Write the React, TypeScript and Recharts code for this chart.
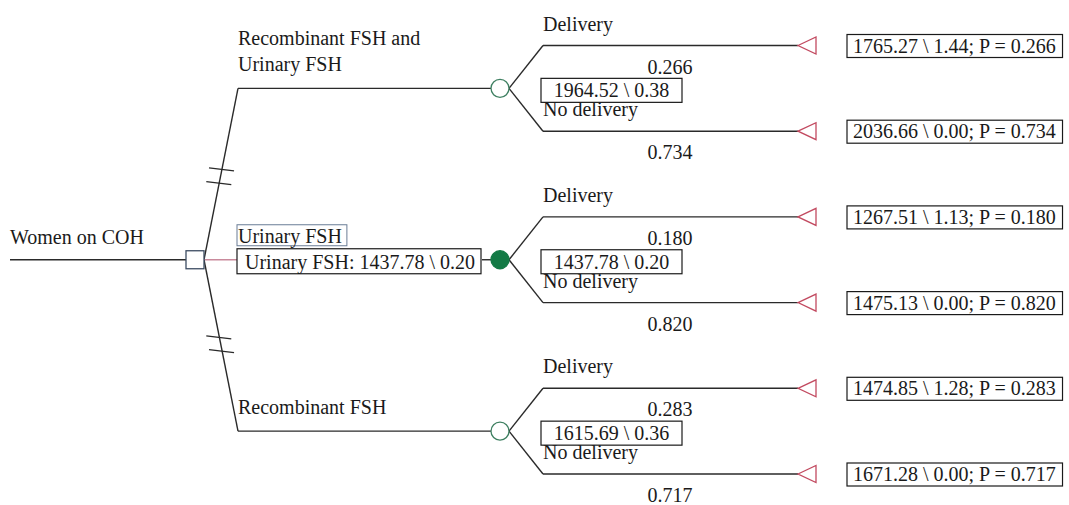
import { ComposedChart, XAxis, YAxis, Scatter, ReferenceLine } from "recharts";

// decision tree values
const rootLabel = "Women on COH";
const strategies = ["Recombinant FSH and Urinary FSH", "Urinary FSH", "Recombinant FSH"];
const strategyCost = [1964.52, 1437.78, 1615.69];
const strategyEffect = [0.38, 0.2, 0.36];
const chosenStrategy = 1;
const outcomes = ["Delivery", "No delivery"];
const outcomeProb = [
  [0.266, 0.734],
  [0.18, 0.82],
  [0.283, 0.717],
];
const payoffCost = [
  [1765.27, 2036.66],
  [1267.51, 1475.13],
  [1474.85, 1671.28],
];
const payoffEffect = [
  [1.44, 0.0],
  [1.13, 0.0],
  [1.28, 0.0],
];

// layout
const W = 1069;
const H = 505;
const COL = { start: 10, decision: 195, elbow1: 238, chance: 500, elbow2: 543, terminal: 798, payoff: 847 };
const ROW0 = 45.5;
const ROW_STEP = 85.7;
const FONT = "'Liberation Serif', 'Times New Roman', serif";
const FS = 20;
const INK = "#1a1a1a";

let ctx: CanvasRenderingContext2D | null = null;
const measure = (t: string) => {
  if (!ctx) ctx = document.createElement("canvas").getContext("2d");
  if (!ctx) return t.length * 9;
  ctx.font = `${FS}px 'Liberation Serif'`;
  return ctx.measureText(t).width;
};

const wrap = (s: string, max = 20) => {
  const lines: string[] = [];
  let cur = "";
  s.split(" ").forEach((w) => {
    const next = cur ? cur + " " + w : w;
    if (next.length > max && cur) {
      lines.push(cur);
      cur = w;
    } else cur = next;
  });
  lines.push(cur);
  return lines;
};

const fmt = (v: number, d: number) => v.toFixed(d);

const leafY = (s: number, o: number) => ROW0 + (s * outcomes.length + o) * ROW_STEP;

const chanceNodes = strategies.map((name, s) => ({
  x: COL.chance,
  y: outcomes.reduce((a, _, o) => a + leafY(s, o), 0) / outcomes.length,
  s,
  name,
  chosen: s === chosenStrategy,
}));
const decisionY = chanceNodes.reduce((a, n) => a + n.y, 0) / chanceNodes.length;
const decisionNodes = [{ x: COL.decision, y: decisionY }];

const terminalNodes = strategies.flatMap((_, s) =>
  outcomes.map((label, o) => ({ x: COL.terminal, y: leafY(s, o), s, o, label }))
);
const outcomeLabels = terminalNodes.map((t) => ({ ...t, x: COL.elbow2 }));
const payoffBoxes = terminalNodes.map((t) => ({
  ...t,
  x: COL.payoff,
  text: `${fmt(payoffCost[t.s][t.o], 2)} \\ ${fmt(payoffEffect[t.s][t.o], 2)}; P = ${fmt(outcomeProb[t.s][t.o], 3)}`,
}));
const strategyLabels = chanceNodes.map((c) => ({ ...c, x: COL.elbow1 }));
const valueBoxes = chanceNodes.map((c) => ({
  ...c,
  x: COL.elbow2,
  text: `${fmt(strategyCost[c.s], 2)} \\ ${fmt(strategyEffect[c.s], 2)}`,
}));
const rootLabels = [{ x: COL.start, y: decisionY, text: rootLabel }];

// edges
type Seg = { a: { x: number; y: number }; b: { x: number; y: number }; color: string };
const segs: Seg[] = [];
const line = "#2a2a2a";
segs.push({ a: { x: COL.start, y: decisionY }, b: { x: COL.decision - 9, y: decisionY }, color: line });
const chosenBoxText = `${strategies[chosenStrategy]}: ${fmt(strategyCost[chosenStrategy], 2)} \\ ${fmt(strategyEffect[chosenStrategy], 2)}`;
const chosenBoxW = measure(chosenBoxText) + 14;
chanceNodes.forEach((c) => {
  const from = { x: COL.decision + 9, y: decisionY };
  const elbow = { x: COL.elbow1, y: c.y };
  segs.push({ a: from, b: elbow, color: c.chosen ? "#c98a9c" : line });
  segs.push({ a: { x: c.chosen ? COL.elbow1 + chosenBoxW : COL.elbow1, y: c.y }, b: { x: COL.chance - 9, y: c.y }, color: line });
  if (!c.chosen) {
    [0.45, 0.53].forEach((t) => {
      const px = from.x + (elbow.x - from.x) * t;
      const py = from.y + (elbow.y - from.y) * t;
      segs.push({ a: { x: px - 13, y: py - 1 }, b: { x: px + 12, y: py + 2 }, color: line });
    });
  }
  outcomes.forEach((_, o) => {
    const ly = leafY(c.s, o);
    segs.push({ a: { x: COL.chance + 9, y: c.y }, b: { x: COL.elbow2, y: ly }, color: line });
    segs.push({ a: { x: COL.elbow2, y: ly }, b: { x: COL.terminal, y: ly }, color: line });
  });
});

const txt = { fontFamily: FONT, fontSize: FS, fill: INK } as const;

const DecisionShape = (p: any) => (
  <rect x={p.cx - 9} y={p.cy - 9} width={18} height={18} fill="#fff" stroke="#3d4d63" strokeWidth={1.3} />
);
const ChanceShape = (p: any) => (
  <circle
    cx={p.cx}
    cy={p.cy}
    r={9}
    fill={p.payload.chosen ? "#137a45" : "#fff"}
    stroke={p.payload.chosen ? "#137a45" : "#3f8062"}
    strokeWidth={1.3}
  />
);
const TerminalShape = (p: any) => (
  <polygon
    points={`${p.cx},${p.cy} ${p.cx + 18},${p.cy - 8.5} ${p.cx + 18},${p.cy + 8.5}`}
    fill="#fff"
    stroke="#c24a60"
    strokeWidth={1.3}
  />
);
const RootLabelShape = (p: any) => (
  <text x={p.cx} y={p.cy - 16} {...txt}>
    {p.payload.text}
  </text>
);
const StrategyLabelShape = (p: any) => {
  const d = p.payload;
  if (d.chosen) {
    const w = measure(d.name) + 6;
    return (
      <g>
        <rect x={p.cx - 1} y={p.cy - 35} width={w} height={21} fill="#fff" stroke="#6a7d96" strokeWidth={1} />
        <text x={p.cx} y={p.cy - 17} {...txt}>
          {d.name}
        </text>
        <rect x={p.cx - 1} y={p.cy - 11} width={chosenBoxW} height={25} fill="#fff" stroke={INK} strokeWidth={1.2} />
        <text x={p.cx + 7} y={p.cy + 9} {...txt}>
          {chosenBoxText}
        </text>
      </g>
    );
  }
  const lines = wrap(d.name);
  return (
    <text {...txt}>
      {lines.map((l, i) => (
        <tspan key={i} x={p.cx} y={p.cy - 17 - (lines.length - 1 - i) * 26}>
          {l}
        </tspan>
      ))}
    </text>
  );
};
const ValueBoxShape = (p: any) => {
  const w = 141;
  return (
    <g>
      <rect x={p.cx - 2} y={p.cy - 10} width={w} height={24} fill="#fff" stroke={INK} strokeWidth={1.2} />
      <text x={p.cx - 2 + w / 2} y={p.cy + 9} textAnchor="middle" {...txt}>
        {p.payload.text}
      </text>
    </g>
  );
};
const OutcomeLabelShape = (p: any) => {
  const d = p.payload;
  return (
    <g>
      <text x={p.cx} y={p.cy - 15} {...txt}>
        {d.label}
      </text>
      <text x={p.cx + 127} y={p.cy + 28} textAnchor="middle" {...txt}>
        {fmt(outcomeProb[d.s][d.o], 3)}
      </text>
    </g>
  );
};
const PayoffShape = (p: any) => {
  const w = measure(p.payload.text) + 12;
  return (
    <g>
      <rect x={p.cx} y={p.cy - 11} width={w} height={23} fill="#fff" stroke={INK} strokeWidth={1.2} />
      <text x={p.cx + 6} y={p.cy + 7} {...txt}>
        {p.payload.text}
      </text>
    </g>
  );
};

export default function App() {
  return (
    <div style={{ position: "absolute", left: 0, top: 0, background: "#fff" }}>
      <ComposedChart width={W} height={H} margin={{ top: 0, right: 0, bottom: 0, left: 0 }}>
        <XAxis type="number" dataKey="x" domain={[0, W]} hide allowDataOverflow />
        <YAxis type="number" dataKey="y" domain={[0, H]} reversed hide allowDataOverflow />
        {segs.map((sg, i) => (
          <ReferenceLine key={i} segment={[sg.a, sg.b]} stroke={sg.color} strokeWidth={1.4} ifOverflow="visible" />
        ))}
        <Scatter data={rootLabels} shape={RootLabelShape} isAnimationActive={false} />
        <Scatter data={strategyLabels} shape={StrategyLabelShape} isAnimationActive={false} />
        <Scatter data={outcomeLabels} shape={OutcomeLabelShape} isAnimationActive={false} />
        <Scatter data={valueBoxes} shape={ValueBoxShape} isAnimationActive={false} />
        <Scatter data={payoffBoxes} shape={PayoffShape} isAnimationActive={false} />
        <Scatter data={decisionNodes} shape={DecisionShape} isAnimationActive={false} />
        <Scatter data={chanceNodes} shape={ChanceShape} isAnimationActive={false} />
        <Scatter data={terminalNodes} shape={TerminalShape} isAnimationActive={false} />
      </ComposedChart>
    </div>
  );
}
